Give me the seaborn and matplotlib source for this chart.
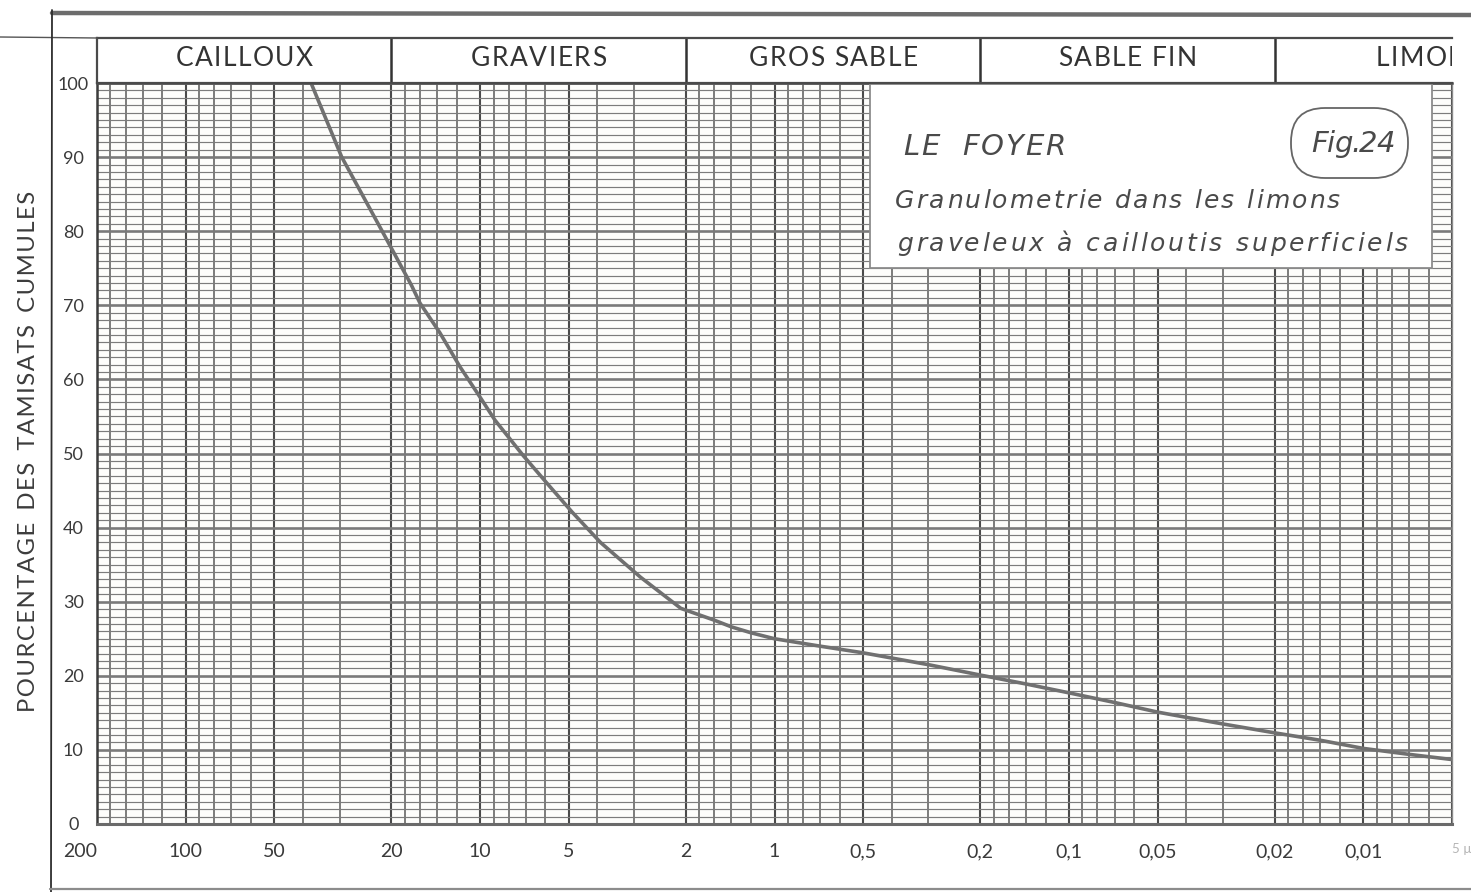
import numpy as np
import pandas as pd
import matplotlib
matplotlib.use("Agg")
import matplotlib.pyplot as plt
import seaborn as sns
from matplotlib.lines import Line2D
from matplotlib.patches import Rectangle, FancyBboxPatch
from matplotlib.font_manager import FontProperties
from matplotlib.ticker import FixedLocator, NullFormatter
from matplotlib.transforms import IdentityTransform

# Grain-size curve: sieve diameter (mm) and cumulative passing (%)
diametre_mm = [37.5, 29.5, 21.5, 17.1, 16.0, 13.7, 11.7, 10.0, 8.9, 7.13, 5.93,
               4.87, 3.9, 2.85, 2.08, 1.6, 1.4, 1.2, 1.0, 0.7, 0.5, 0.3, 0.2,
               0.14, 0.1, 0.07, 0.05, 0.04, 0.03, 0.02, 0.014, 0.01, 0.007,
               0.005]
tamisat_pct = [100, 90, 80, 72.7, 70.3, 66.3, 61.7, 57.6, 54.5, 49.7, 46.0,
               42.1, 38.0, 33.3, 29.1, 27.5, 26.6, 25.8, 25.0, 24.0, 23.1,
               21.5, 20.1, 18.9, 17.7, 16.4, 15.1, 14.4, 13.5, 12.3, 11.3,
               10.2, 9.4, 8.7]

x_ticks = [200, 100, 50, 20, 10, 5, 2, 1, 0.5, 0.2, 0.1, 0.05, 0.02, 0.01, 0.005]
x_tick_labels = ["200", "100", "50", "20", "10", "5", "2", "1", "0,5", "0,2",
                 "0,1", "0,05", "0,02", "0,01", "5 µ"]
y_ticks = [0, 10, 20, 30, 40, 50, 60, 70, 80, 90, 100]
y_tick_labels = ["0", "10", "20", "30", "40", "50", "60", "70", "80", "90", "100"]

classes = ["CAILLOUX", "GRAVIERS", "GROS SABLE", "SABLE FIN", "LIMON"]
class_bounds = [200, 20, 2, 0.2, 0.02, 0.002]

title = "LE  FOYER"
caption_1 = "Granulometrie dans les limons"
caption_2 = "graveleux à cailloutis superficiels"
fig_no = "Fig.24"
y_title = "POURCENTAGE DES TAMISATS CUMULES"

sns.set_theme(style="white")
plt.rcParams["font.family"] = ["Lato", "DejaVu Sans"]

W, H = 1471, 892
fig = plt.figure(figsize=(W / 100, H / 100), dpi=100)
fig.patch.set_facecolor("white")
renderer = fig.canvas.get_renderer()


def ink_width(s, prop):
    return renderer.get_text_width_height_descent(s, prop, ismath=False)[0]


def glyph_metrics(ch, prop):
    """Advance and left bearing (relative to 'n') of one character, in pixels."""
    nn = ink_width("nn", prop)
    n = ink_width("n", prop)
    if ch == " ":
        return ink_width("n n", prop) - nn, 0.0
    adv = ink_width("n" + ch + "n", prop) - nn
    lsb = (ink_width("n" + ch, prop) - ink_width(ch, prop)) - (nn - n)
    return adv, lsb


def spaced_text(x, y, s, prop, color, width=None, track=0.0, ha="left",
                clip=None, zorder=5):
    """Letter-spaced horizontal text; x, y (baseline) in pixels from the
    top-left corner."""
    met = [glyph_metrics(ch, prop) for ch in s]
    adv = [m[0] for m in met]
    if width is not None:
        track = (width - sum(adv)) / max(len(s) - 1, 1)
    total = sum(adv) + track * (len(s) - 1)
    pos = -total / 2 if ha == "center" else 0.0
    for ch, (a, lsb) in zip(s, met):
        if ch != " ":
            t = fig.text((x + pos + lsb) / W, (H - y) / H, ch,
                         fontproperties=prop, color=color, ha="left",
                         va="baseline", zorder=zorder)
            if clip is not None:
                t.set_clip_box(clip.bbox)
                t.set_clip_on(True)
        pos += a + track


# pixel geometry of the grid
L, R, T, B = 97, 1452, 83, 824
ax = fig.add_axes([L / W, (H - B) / H, (R - L) / W, (B - T) / H])
ax.set_facecolor("#fdfdfb")

df = pd.DataFrame({"diametre": diametre_mm, "tamisat": tamisat_pct})
sns.lineplot(data=df, x="diametre", y="tamisat", ax=ax, sort=False,
             color="#707070", lw=2.6, zorder=2, legend=False)

ax.set_xscale("log")
ax.set_xlim(200, 0.005)
ax.set_ylim(0, 100)
ax.set_xlabel("")
ax.set_ylabel("")

# logarithmic ruling of the paper
mult = [1, 1.2, 1.4, 1.6, 1.8, 2, 3, 4, 5, 6, 7, 8, 9]
vlines = sorted({round(m * 10.0 ** k, 6) for k in range(-3, 3) for m in mult
                 if 0.005 <= m * 10.0 ** k <= 200})
ax.xaxis.set_minor_locator(FixedLocator(vlines))
ax.xaxis.set_minor_formatter(NullFormatter())
ax.yaxis.set_minor_locator(FixedLocator(np.arange(0, 101, 1)))

ax.set_xticks(x_ticks, x_tick_labels)
ax.set_yticks(y_ticks, y_tick_labels)
ax.set_axisbelow(True)
ax.grid(which="minor", axis="x", color="#595959", lw=1.1)
ax.grid(which="major", axis="x", color="#4a4a4a", lw=1.5)
ax.grid(which="minor", axis="y", color="#7c7c7c", lw=0.85)
ax.grid(which="major", axis="y", color="#7a7a7a", lw=1.9)

ax.tick_params(axis="both", which="both", length=0)
ax.tick_params(axis="x", pad=14, labelsize=14, labelcolor="#3a3a3a")
ax.tick_params(axis="y", pad=17, labelsize=13, labelcolor="#3a3a3a")
for lab in ax.get_yticklabels():
    lab.set_ha("center")
xl = ax.get_xticklabels()
xl[0].set_ha("right")
xl[-1].set_ha("left")
xl[-1].set_color("#b5b5b5")
xl[-1].set_fontsize(9.5)

for side, lw, c in [("left", 1.8, "#3c3c3c"), ("bottom", 2.2, "#6a6a6a"),
                    ("top", 1.8, "#555555"), ("right", 1.0, "#8a8a8a")]:
    ax.spines[side].set_visible(True)
    ax.spines[side].set_linewidth(lw)
    ax.spines[side].set_color(c)

# caption panel
ax.add_patch(Rectangle((0.5705, 0.750), 0.4147, 0.248, transform=ax.transAxes,
                       facecolor="white", edgecolor="#8c8c8c", lw=1.3, zorder=3))
ink = "#4a4a4a"
cap_big = FontProperties(family=["DejaVu Sans"], style="oblique", size=21)
cap = FontProperties(family=["DejaVu Sans"], style="oblique", size=18)
spaced_text(903, 155, title, cap_big, ink, width=162)
spaced_text(895, 208, caption_1, cap, ink, width=445)
spaced_text(897, 251, caption_2, cap, ink, width=511)
fig.add_artist(FancyBboxPatch((1291, H - 178), 117, 70,
                              boxstyle="round,pad=0,rounding_size=34",
                              transform=IdentityTransform(), fc="white",
                              ec="#666666", lw=1.3, zorder=4))
spaced_text(1311, 152, fig_no, cap_big, ink, width=84)

# grain-size classes band
bt = 38
band = fig.add_axes([L / W, (H - T) / H, (R - L) / W, (T - bt) / H], sharex=ax)
band.set_ylim(0, 1)
band.set_facecolor("white")
band.tick_params(axis="both", which="both", length=0, labelbottom=False,
                 labelleft=False)
band.grid(False)
for side in ["left", "top", "bottom", "right"]:
    band.spines[side].set_visible(True)
    band.spines[side].set_color("#4a4a4a")
    band.spines[side].set_linewidth(1.6)
band.spines["right"].set_visible(False)
for b in class_bounds[1:-1]:
    band.axvline(b, color="#333333", lw=1.8)

band_font = FontProperties(family=["Lato", "DejaVu Sans"], size=19)
for name, hi, lo in zip(classes, class_bounds[:-1], class_bounds[1:]):
    xc = ax.transData.transform((np.sqrt(hi * lo), 50))[0]
    spaced_text(xc, 66, name, band_font, "#333333", track=1.5, ha="center",
                clip=band)

# sheet frame
def fig_line(x0, y0, x1, y1, lw, color):
    fig.add_artist(Line2D([x0 / W, x1 / W], [(H - y0) / H, (H - y1) / H],
                          transform=fig.transFigure, lw=lw, color=color))

fig_line(52, 13, W, 15, 3.2, "#6c6c6c")
fig_line(0, 37, L, 38, 1.0, "#555555")
fig_line(52, 10, 51, 892, 1.3, "#2e2e2e")
fig_line(50, 889, W, 889, 1.6, "#8c8c8c")

# vertical axis title, letter-spaced with hair spaces and sized to its length
spaced_title = "\u200a".join(y_title).replace("\u200a \u200a", "\u2009 \u2009")
ylab_font = FontProperties(family=["Lato", "DejaVu Sans"], size=15.5)
for _ in range(3):
    ylab_font.set_size(ylab_font.get_size() * 522 / ink_width(spaced_title,
                                                              ylab_font))
fig.text(29 / W, (H - 451) / H, spaced_title, fontproperties=ylab_font,
         color="#3c3c3c", rotation=90, ha="center", va="center")

fig.savefig("out.png", dpi=100, facecolor="white")
